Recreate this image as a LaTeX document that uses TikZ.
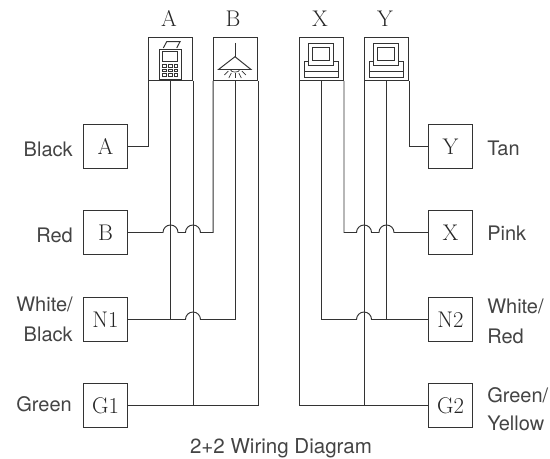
\documentclass[tikz,border=0pt]{standalone}
\usepackage{fontspec}
\setsansfont{TeX Gyre Heros}
\definecolor{wire}{HTML}{333333}
\definecolor{lab}{HTML}{444444}
\newcommand{\hopover}[1]{-- ($(#1)+(-7.5,0)$) arc[start angle=180,end angle=0,radius=7.5]}
\usetikzlibrary{calc}
\tikzset{
  wireline/.style={draw=wire,line width=0.72pt},
  term/.style={draw=wire,line width=0.72pt,minimum width=33pt,minimum height=33pt,inner sep=0pt,font=\fontsize{17}{17}\selectfont,text=black!85},
  device/.style={draw=wire,line width=0.72pt,minimum width=33pt,minimum height=32.25pt,inner sep=0pt},
  toplab/.style={inner sep=0pt,anchor=base,font=\fontsize{17}{17}\selectfont,text=black!85},
  lableft/.style={inner sep=0pt,anchor=base east,font=\sffamily\fontsize{15}{15}\selectfont,text=lab},
  labright/.style={inner sep=0pt,anchor=base west,font=\sffamily\fontsize{15}{15}\selectfont,text=lab},
  icon/.style={draw=wire,line width=0.72pt},
  thinicon/.style={draw=wire,line width=0.5pt}
}
\begin{document}
\begin{tikzpicture}[x=0.75pt,y=0.75pt]
\useasboundingbox (0,0) rectangle (550,458);
\fill[white] (0,0) rectangle (550,458);
% devices
\node[device] (dA) at (170.5,399) {};
\node[device] (dB) at (235.5,399) {};
\node[device] (dX) at (321.5,399) {};
\node[device] (dY) at (386.5,399) {};
% device captions
\node[toplab] (lA) at (169,431) {A};
\node[toplab] (lB) at (233,431) {B};
\node[toplab] (lX) at (320,431) {X};
\node[toplab] (lY) at (385,431) {Y};
% terminals
\node[term] (tA) at (105.5,311.5) {A};
\node[term] (tB) at (105.5,225.5) {B};
\node[term] (tN) at (105.5,138.5) {N1};
\node[term] (tG) at (105.5,52.5) {G1};
\node[term] (tY) at (450.5,311.5) {Y};
\node[term] (tX) at (450.5,225.5) {X};
\node[term] (tM) at (450.5,138.5) {N2};
\node[term] (tH) at (450.5,52.5) {G2};
% labels
\node[lableft] (a1) at (73,301.3) {Black};
\node[lableft] (a2) at (73,215.3) {Red};
\node[lableft] (a3) at (73,146.3) {White/};
\node[lableft] (a4) at (73,116.3) {Black};
\node[lableft] (a5) at (72,46.3) {Green};
\node[labright] (b1) at (487,302.3) {Tan};
\node[labright] (b2) at (487,217.3) {Pink};
\node[labright] (b3) at (487,145) {White/};
\node[labright] (b4) at (487,115) {Red};
\node[labright] (b5) at (487,56) {Green/};
\node[labright] (b6) at (487,28) {Yellow};
\node[inner sep=0pt,anchor=base,font=\sffamily\fontsize{15.4}{15.4}\selectfont,text=lab] (cap) at (281,5) {2+2 Wiring Diagram};
% verticals
\draw[wireline] (dA.south) -- (dA.south |- tN.east);
\draw[wireline] (dA.south east) -- (dA.south east |- tG.east);
\draw[wireline] (dB.south) -- (dB.south |- tN.east);
\draw[wireline] (dB.south east) -- (dB.south east |- tG.east);
% left wires
\draw[wireline] (tA.east) -| (dA.south west);
\coordinate (h1) at (dA.south |- tB.east);
\coordinate (h2) at (dA.south east |- tB.east);
\draw[wireline] (tB.east) \hopover{h1} \hopover{h2} -- (dB.south west |- tB.east) -- (dB.south west);
\coordinate (h3) at (dA.south east |- tN.east);
\draw[wireline] (tN.east) \hopover{h3} -- (dB.south |- tN.east);
\draw[wireline] (tG.east) -- (dB.south east |- tG.east);
% right pair
\draw[wireline] (dX.south west) |- (tH.west);
\draw[wireline] (dX.south) -- (dX.south |- tM.west);
\draw[wireline] (dY.south west) -- (dY.south west |- tH.west);
\draw[wireline] (dY.south) -- (dY.south |- tM.west);
\draw[wireline] (dY.south east) |- (tY.west);
\coordinate (h4) at (dY.south west |- tX.west);
\coordinate (h5) at (dY.south |- tX.west);
\draw[wireline] (dX.south east) -- (dX.south east |- tX.west) \hopover{h4} \hopover{h5} -- (tX.west);
\coordinate (h6) at (dY.south west |- tM.west);
\draw[wireline] (dX.south |- tM.west) \hopover{h6} -- (tM.west);
% icons (pixel coordinates from the top)
\begin{scope}[shift={(0,458)},yscale=-1]
  % calculator
  \draw[icon,fill=white] (163.3,48) -- (166.7,41.7) -- (180,41.7) -- (176.7,48);
  \draw[icon,fill=white] (159.5,49.5) rectangle (181.5,79.5);
  \draw[icon] (162.5,51.5) rectangle (177.5,61.5);
  \foreach \kx in {164.5,170.5,176}
    \foreach \ky in {65.7,70.3,75}
      \draw[thinicon] (\kx-1.8,\ky-1.3) rectangle (\kx+1.8,\ky+1.3);
  % lamp
  \draw[icon] (235,43) -- (235,56.7);
  \draw[icon] (218.5,69.5) -- (235,56.7) -- (251,69.5) -- cycle;
  \draw[thinicon] (230.3,69.5) .. controls (230.8,73) and (239.3,73) .. (239.8,69.5);
  \draw[thinicon] (235,73) -- (235,78);
  \draw[thinicon] (231.3,73) -- (228.8,78);
  \draw[thinicon] (238.8,73) -- (241.3,78);
  \draw[thinicon] (228.3,71) -- (224.3,75);
  \draw[thinicon] (241.8,71) -- (245.8,75);
  % computers
  \foreach \dx in {0,65}{
    \begin{scope}[xshift=\dx*0.75pt]
    \draw[icon] (304.5,61.5) rectangle (338.5,77.5);
    \draw[icon] (304.5,71.5) -- (338.5,71.5);
    \draw[icon,fill=white] (308.5,43.5) rectangle (333.5,65.5);
    \draw[icon] (312.5,47.5) rectangle (329.5,60.5);
    \end{scope}
  }
\end{scope}
\end{tikzpicture}
\end{document}
